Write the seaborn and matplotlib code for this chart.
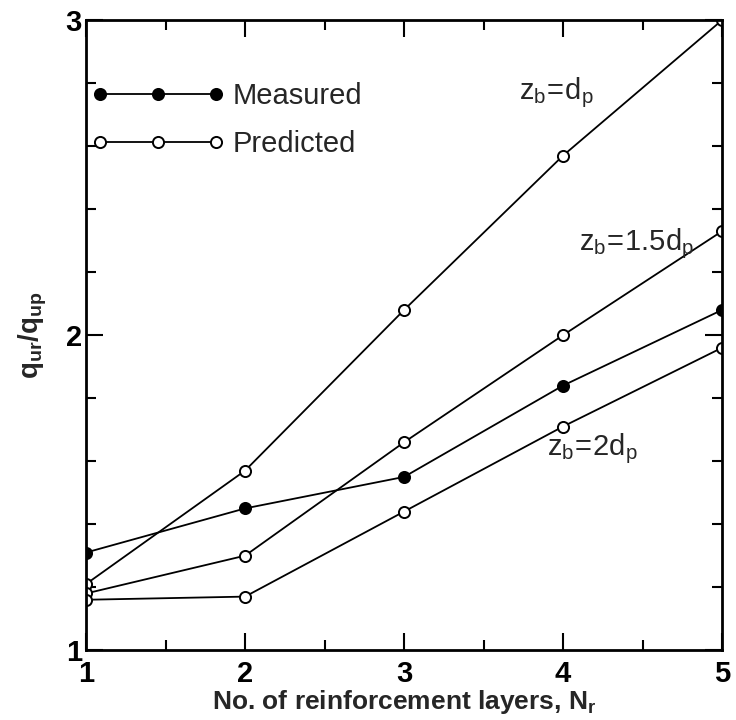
import matplotlib
matplotlib.use("Agg")
import matplotlib.pyplot as plt
from matplotlib.ticker import MultipleLocator
import pandas as pd
import seaborn as sns

# number of reinforcement layers
layers = [1, 2, 3, 4, 5]

# measured ratio
measured = [1.31, 1.45, 1.55, 1.84, 2.08]

# predicted ratios for different zb
pred_dp = [1.21, 1.57, 2.08, 2.57, 3.0]
pred_15dp = [1.18, 1.30, 1.66, 2.00, 2.33]
pred_2dp = [1.16, 1.17, 1.44, 1.71, 1.96]

curve_labels = [r'$\mathregular{z_b\!=\!d_p}$', r'$\mathregular{z_b\!=\!1.5d_p}$', r'$\mathregular{z_b\!=\!2d_p}$']
curve_label_pos = [(3.72, 2.77), (4.1, 2.29), (3.9, 1.64)]

sns.set_style("ticks")
plt.rcParams['font.family'] = ['Liberation Sans', 'DejaVu Sans']
plt.rcParams['mathtext.fontset'] = 'custom'
plt.rcParams['mathtext.rm'] = 'Liberation Sans'
plt.rcParams['mathtext.it'] = 'Liberation Sans'
plt.rcParams['mathtext.bf'] = 'Liberation Sans:bold'

fig = plt.figure(figsize=(7.36, 7.2), dpi=100)
ax = fig.add_axes([0.117, 0.097, 0.864, 0.875])

df = pd.DataFrame({'N': layers, 'measured': measured, 'dp': pred_dp,
                   '15dp': pred_15dp, '2dp': pred_2dp})

line_kw = dict(color='black', linewidth=1.3, marker='o', markersize=8,
               markeredgecolor='black', markeredgewidth=1.4)

sns.lineplot(data=df, x='N', y='dp', ax=ax, markerfacecolor='white', label='Predicted', **line_kw)
sns.lineplot(data=df, x='N', y='15dp', ax=ax, markerfacecolor='white', **line_kw)
sns.lineplot(data=df, x='N', y='2dp', ax=ax, markerfacecolor='white', **line_kw)
sns.lineplot(data=df, x='N', y='measured', ax=ax, markerfacecolor='black', label='Measured', **line_kw)

ax.set_xlim(1, 5)
ax.set_ylim(1, 3)
ax.xaxis.set_major_locator(MultipleLocator(1))
ax.xaxis.set_minor_locator(MultipleLocator(0.5))
ax.yaxis.set_major_locator(MultipleLocator(1))
ax.yaxis.set_minor_locator(MultipleLocator(0.2))
ax.tick_params(which='both', direction='in', top=True, right=True, width=1.5, colors='black')
ax.tick_params(which='major', length=12, labelsize=21, pad=3)
ax.tick_params(axis='x', which='major', pad=7)
ax.tick_params(which='minor', length=7)
for t in ax.get_xticklabels() + ax.get_yticklabels():
    t.set_fontweight('bold')
for s in ax.spines.values():
    s.set_linewidth(2)
    s.set_color('black')

ax.set_xlabel(r'No. of reinforcement layers, N$_\mathbf{r}$', fontsize=19, fontweight='bold', labelpad=0)
ax.set_ylabel(r'$\mathbf{q_{ur}/q_{up}}$', fontsize=20, labelpad=12)

for lbl, (x, y) in zip(curve_labels, curve_label_pos):
    ax.text(x, y, lbl, fontsize=21, ha='left', va='center')

h, l = ax.get_legend_handles_labels()
ax.legend(h[::-1], l[::-1], loc='upper left', bbox_to_anchor=(-0.02, 0.93), frameon=False,
          numpoints=3, handlelength=4.6, fontsize=21, labelspacing=0.7, handletextpad=0.25,
          borderaxespad=0.2)

fig.savefig('out.png', dpi=100)
